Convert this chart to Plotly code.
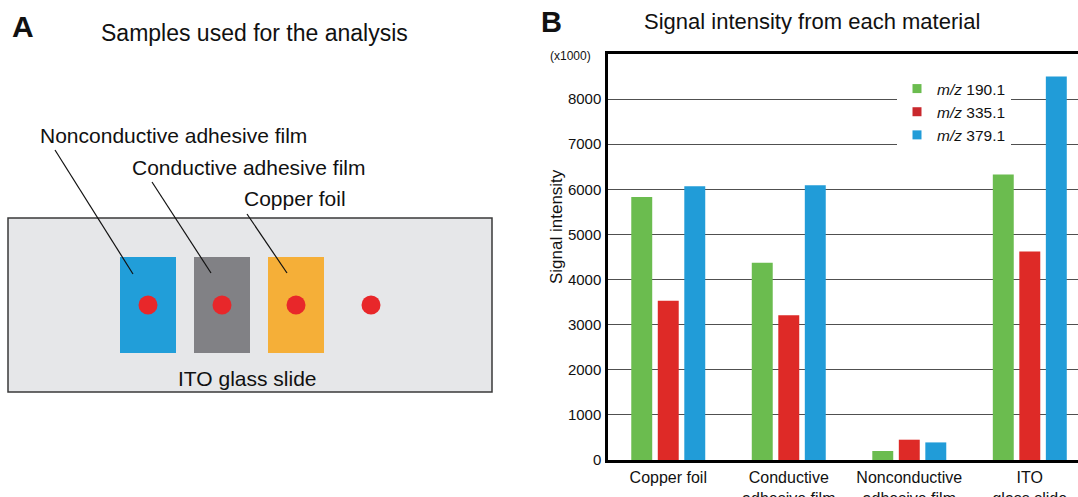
import plotly.graph_objects as go

W, H = 1078, 497

# ---- data (panel B) ----
categories = ["Copper foil", "Conductive<br>adhesive film", "Nonconductive<br>adhesive film", "ITO<br>glass slide"]
series_names = ["<i>m/z</i> 190.1", "<i>m/z</i> 335.1", "<i>m/z</i> 379.1"]
mz190 = [5830, 4370, 200, 6330]
mz335 = [3530, 3210, 450, 4620]
mz379 = [6070, 6090, 390, 8500]
y_ticks = [0, 1000, 2000, 3000, 4000, 5000, 6000, 7000, 8000]

bar_colors = ["#6BBC4F", "#DE2A27", "#219CD8"]
legend_colors = ["#6BBC4F", "#C9282D", "#219CD8"]

FONT = "Liberation Sans, Arial, Helvetica, sans-serif"


def X(px):
    return px / W


def Y(py):
    return (H - py) / H


fig = go.Figure()
for vals, col in zip([mz190, mz335, mz379], bar_colors):
    fig.add_trace(go.Bar(x=categories, y=vals, marker=dict(color=col, line=dict(width=0)),
                         showlegend=False, hoverinfo="x+y"))
for name, col in zip(series_names, legend_colors):
    fig.add_trace(go.Scatter(x=[None], y=[None], mode="markers", name=name,
                             marker=dict(symbol="square", size=9, color=col)))

shapes = []
# ---- panel A schematic ----
shapes.append(dict(type="rect", xref="paper", yref="paper", x0=X(8), x1=X(492), y0=Y(218), y1=Y(392),
                   fillcolor="#E6E7E9", line=dict(color="#3A3A3A", width=1.5), layer="above"))
for x0, col in [(120, "#219ED9"), (194, "#818185"), (268, "#F5AF38")]:
    shapes.append(dict(type="rect", xref="paper", yref="paper", x0=X(x0), x1=X(x0 + 56), y0=Y(257), y1=Y(353),
                       fillcolor=col, line=dict(width=0), layer="above"))
for cx in [148, 222, 296, 371]:
    shapes.append(dict(type="circle", xref="paper", yref="paper", x0=X(cx - 9.5), x1=X(cx + 9.5),
                       y0=Y(305 - 9.5), y1=Y(305 + 9.5), fillcolor="#E8272A", line=dict(width=0), layer="above"))
for (xa, ya, xb, yb) in [(55, 150, 133, 274), (152, 182, 211, 273), (247, 214, 287, 273)]:
    shapes.append(dict(type="line", xref="paper", yref="paper", x0=X(xa), y0=Y(ya), x1=X(xb), y1=Y(yb),
                       line=dict(color="#111111", width=1.2), layer="above"))

annotations = []


def txt(text, x, y, size, xanchor="center", bold=False, angle=0, color="#111111"):
    annotations.append(dict(text=("<b>%s</b>" % text) if bold else text, xref="paper", yref="paper",
                            x=X(x), y=Y(y), xanchor=xanchor, yanchor="middle", showarrow=False,
                            textangle=angle, font=dict(family=FONT, size=size, color=color)))


txt("A", 22.5, 26, 30, bold=True)
txt("Samples used for the analysis", 254, 33, 23)
txt("Nonconductive adhesive film", 38, 135, 21, xanchor="left")
txt("Conductive adhesive film", 130, 167, 21, xanchor="left")
txt("Copper foil", 242, 199, 21, xanchor="left")
txt("ITO glass slide", 247, 378, 21)

txt("B", 551.5, 22, 29, bold=True)
txt("Signal intensity from each material", 812, 21, 22)
txt("(x1000)", 593, 56, 12, xanchor="right")
txt("Signal intensity", 556, 227, 17, angle=-90)

fig.update_layout(
    width=W, height=H, template="none",
    margin=dict(l=0, r=0, t=0, b=0),
    paper_bgcolor="white", plot_bgcolor="white",
    font=dict(family=FONT, color="#111111"),
    barmode="group", bargap=0.34, bargroupgap=0.21,
    shapes=shapes, annotations=annotations,
    legend=dict(x=X(897), y=Y(72), xanchor="left", yanchor="top", bgcolor="white",
                borderwidth=0, font=dict(family=FONT, size=15.5, color="#111111"),
                itemwidth=30, tracegroupgap=0),
    xaxis=dict(domain=[X(608), 1], range=[-0.5, 3.4], type="category",
               showline=True, mirror=True, linecolor="black", linewidth=2.5,
               showgrid=False, zeroline=False, ticks="", automargin=False,
               ticklabelstandoff=1, tickfont=dict(family=FONT, size=16, color="#111111")),
    yaxis=dict(domain=[Y(460), Y(54)], range=[0, 9000], tickvals=y_ticks,
               showline=True, linecolor="black", linewidth=2.5,
               showgrid=True, gridcolor="#505050", gridwidth=1.4, zeroline=False,
               ticks="", automargin=False, ticklabelstandoff=1,
               tickfont=dict(family=FONT, size=15, color="#111111")),
)

fig.write_html("out.html", config={"displayModeBar": False},
               post_script="document.body.style.margin='0';document.body.style.overflow='hidden';")
